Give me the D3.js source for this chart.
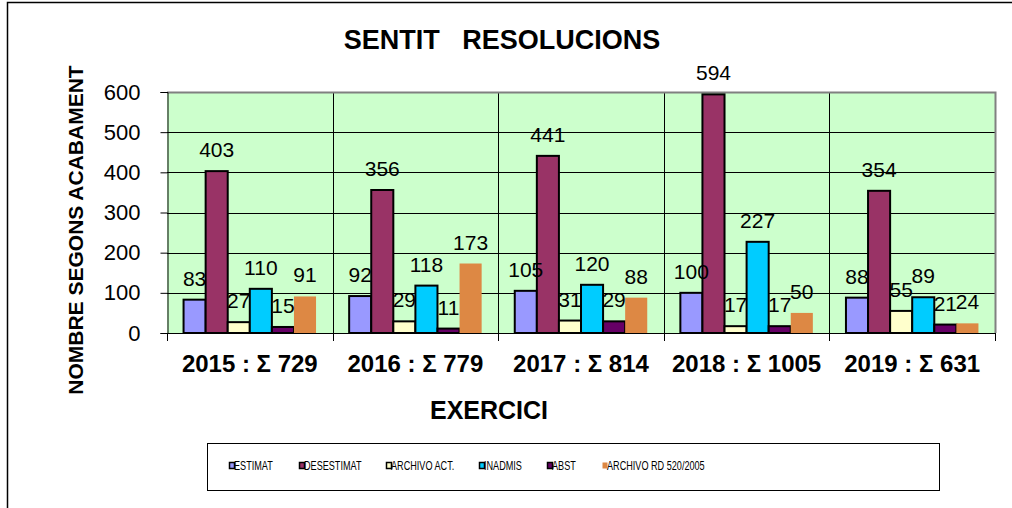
<!DOCTYPE html>
<html>
<head>
<meta charset="utf-8">
<script src="https://cdn.jsdelivr.net/npm/d3@7"></script>
<style>
  html, body { margin: 0; padding: 0; background: #fff; }
  svg { display: block; font-family: Arial, 'Liberation Sans', sans-serif; }
</style>
</head>
<body>
<svg id="chart" width="1012" height="508"></svg>
<script>
// years on the x axis
var years = ['2015', '2016', '2017', '2018', '2019']
var seriesNames = ['ESTIMAT', 'DESESTIMAT', 'ARCHIVO ACT.', 'INADMIS', 'ABST', 'ARCHIVO RD 520/2005']
var seriesColors = ['#9999ff', '#993366', '#ffffcc', '#00ccff', '#660066', '#dd8844']

// values per series, one per year
var estimat = [83, 92, 105, 100, 88]
var desestimat = [403, 356, 441, 594, 354]
var archivoAct = [27, 29, 31, 17, 55]
var inadmis = [110, 118, 120, 227, 89]
var abst = [15, 11, 29, 17, 21]
var archivoRd = [91, 173, 88, 50, 24]

var yTicks = [0, 100, 200, 300, 400, 500, 600]

var allSeries = [estimat, desestimat, archivoAct, inadmis, abst, archivoRd]

var svg = d3.select('#chart')

// outer frame
svg.append('rect')
  .attr('x', 7.5).attr('y', 2.5)
  .attr('width', 1100).attr('height', 600)
  .attr('fill', 'none')
  .attr('stroke', '#000')
  .attr('stroke-width', 1.5)

var plot = { left: 167, right: 995, top: 92, bottom: 333 }

var x0 = d3.scaleBand().domain(years).range([plot.left, plot.right]).padding(0)
var x1 = d3.scaleBand().domain(seriesNames)
  .range([x0.bandwidth() * 0.1, x0.bandwidth() * 0.9]).padding(0)
var y = d3.scaleLinear().domain([0, 600]).range([plot.bottom, plot.top])

// plot background
svg.append('rect')
  .attr('x', plot.left).attr('y', plot.top)
  .attr('width', plot.right - plot.left).attr('height', plot.bottom - plot.top)
  .attr('fill', '#ccffcc')

// horizontal grid
svg.append('g')
  .selectAll('line')
  .data(yTicks.slice(1, -1))
  .join('line')
  .attr('x1', plot.left).attr('x2', plot.right)
  .attr('y1', (d) => Math.round(y(d)) + 0.5).attr('y2', (d) => Math.round(y(d)) + 0.5)
  .attr('stroke', '#000')

// vertical grid at category boundaries
svg.append('g')
  .selectAll('line')
  .data(years.slice(1))
  .join('line')
  .attr('x1', (d) => Math.round(x0(d)) + 0.5).attr('x2', (d) => Math.round(x0(d)) + 0.5)
  .attr('y1', plot.top).attr('y2', plot.bottom + 8)
  .attr('stroke', '#000')

// plot border (grey top/right)
svg.append('path')
  .attr('d', `M${plot.left},${plot.top + 0.5}H${plot.right + 0.5}V${plot.bottom}`)
  .attr('fill', 'none')
  .attr('stroke', '#808080')
  .attr('stroke-width', 2)

// y axis
var yAxis = svg.append('g')
  .attr('transform', `translate(${plot.left + 0.5},0)`)
  .call(d3.axisLeft(y).tickValues(yTicks).tickSize(7).tickPadding(20).tickFormat(d3.format('d')))
yAxis.select('.domain').attr('stroke', '#000')
yAxis.selectAll('text').attr('font-size', 22).attr('fill', '#000').attr('font-family', 'Arial, Liberation Sans, sans-serif')

// x axis
var xAxis = svg.append('g')
  .attr('transform', `translate(0,${plot.bottom + 0.5})`)
  .call(d3.axisBottom(x0).tickSize(0).tickPadding(0).tickFormat(() => ''))
xAxis.select('.domain').attr('d', `M${plot.left},0H${plot.right}`).attr('stroke', '#000')
svg.append('g')
  .selectAll('line')
  .data([plot.left, plot.right])
  .join('line')
  .attr('x1', (d) => d + 0.5).attr('x2', (d) => d + 0.5)
  .attr('y1', plot.bottom).attr('y2', plot.bottom + 8)
  .attr('stroke', '#000')

// category labels with sum
svg.append('g')
  .selectAll('text')
  .data(years)
  .join('text')
  .attr('x', (d) => x0(d) + x0.bandwidth() / 2)
  .attr('y', 372)
  .attr('text-anchor', 'middle')
  .attr('font-size', 24)
  .attr('font-weight', 'bold')
  .text((d, i) => d + ' : \u03A3 ' + d3.sum(allSeries, (s) => s[i]))

// bars
var groups = svg.append('g')
  .selectAll('g')
  .data(years)
  .join('g')
  .attr('transform', (d) => `translate(${x0(d)},0)`)

var barData = function (d, i) {
  return seriesNames.map((name, k) => ({ name: name, k: k, value: allSeries[k][i] }))
}

groups.selectAll('rect')
  .data(barData)
  .join('rect')
  .attr('x', (d) => x1(d.name))
  .attr('y', (d) => y(d.value))
  .attr('width', x1.bandwidth())
  .attr('height', (d) => y(0) - y(d.value))
  .attr('fill', (d) => seriesColors[d.k])
  .attr('stroke', (d) => d.k === 5 ? 'none' : '#000')
  .attr('stroke-width', 2)

groups.selectAll('text')
  .data(barData)
  .join('text')
  .attr('x', (d) => x1(d.name) + x1.bandwidth() / 2)
  .attr('y', (d) => y(d.value) - 14)
  .attr('text-anchor', 'middle')
  .attr('font-size', 21)
  .attr('fill', '#000')
  .text((d) => d.value)

// title
svg.append('text')
  .attr('x', 502).attr('y', 49)
  .attr('text-anchor', 'middle')
  .attr('font-size', 27)
  .attr('font-weight', 'bold')
  .attr('xml:space', 'preserve')
  .style('white-space', 'pre')
  .text('SENTIT   RESOLUCIONS')

// y axis title
svg.append('text')
  .attr('transform', 'translate(83,230) rotate(-90)')
  .attr('text-anchor', 'middle')
  .attr('font-size', 21)
  .attr('font-weight', 'bold')
  .text('NOMBRE SEGONS ACABAMENT')

// x axis title
svg.append('text')
  .attr('x', 489).attr('y', 419)
  .attr('text-anchor', 'middle')
  .attr('font-size', 25)
  .attr('font-weight', 'bold')
  .text('EXERCICI')

// legend
var legendX = [229, 299, 386, 479, 547, 602]
svg.append('rect')
  .attr('x', 207.5).attr('y', 443.5)
  .attr('width', 732).attr('height', 47)
  .attr('fill', '#fff')
  .attr('stroke', '#000')

var legend = svg.append('g')
  .selectAll('g')
  .data(seriesNames)
  .join('g')
  .attr('transform', (d, i) => `translate(${legendX[i]},462)`)

legend.append('rect')
  .attr('x', 0.5).attr('y', 0.5)
  .attr('width', 5).attr('height', 6)
  .attr('fill', (d, i) => seriesColors[i])
  .attr('stroke', (d, i) => i === 5 ? 'none' : '#000')
  .attr('stroke-width', 1.5)

legend.append('text')
  .attr('transform', 'translate(5,8) scale(0.76,1)')
  .attr('font-size', 12)
  .text((d) => d)
</script>
</body>
</html>
